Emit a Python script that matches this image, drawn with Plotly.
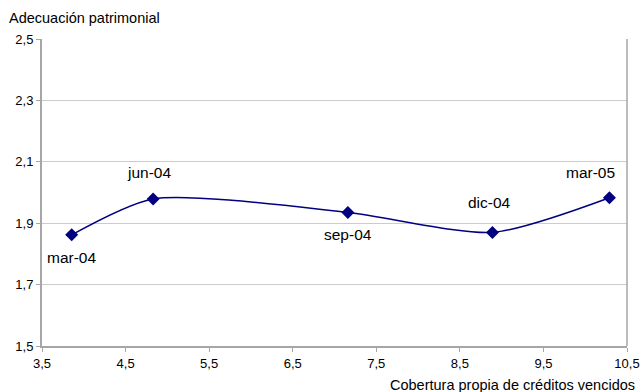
import plotly.graph_objects as go

labels = ["mar-04", "jun-04", "sep-04", "dic-04", "mar-05"]
x_vals = [3.855, 4.83, 7.16, 8.89, 10.29]
y_vals = [1.862, 1.979, 1.935, 1.870, 1.983]
label_shift_x = [0, -4, 0, -3, -19]
label_shift_y = [-23, 26, -22, 30, 25]

FONT = "Liberation Sans, Arial"

fig = go.Figure()
fig.add_trace(go.Scatter(
    x=x_vals, y=y_vals, mode="lines+markers",
    line=dict(color="#000080", width=1.5, shape="spline", smoothing=0.7),
    marker=dict(symbol="diamond", size=10, color="#000080"),
    showlegend=False, hoverinfo="skip"))

for lab, xv, yv, sx, sy in zip(labels, x_vals, y_vals, label_shift_x, label_shift_y):
    fig.add_annotation(x=xv, y=yv, text=lab, showarrow=False, xshift=sx, yshift=sy,
                       font=dict(family=FONT, size=15.5, color="#000000"))

fig.add_annotation(xref="paper", yref="paper", x=-0.06, y=1.067, xanchor="left", yanchor="middle",
                   text="Adecuación patrimonial", showarrow=False,
                   font=dict(family=FONT, size=14.5, color="#000000"))
fig.add_annotation(xref="paper", yref="paper", x=1.017, y=-0.127, xanchor="right", yanchor="middle",
                   text="Cobertura propia de créditos vencidos", showarrow=False,
                   font=dict(family=FONT, size=14.5, color="#000000"))

fig.update_layout(
    width=643, height=392,
    margin=dict(l=42, r=16, t=39, b=46),
    paper_bgcolor="white", plot_bgcolor="white",
    separators=",.",
    font=dict(family=FONT, size=13, color="#000000"),
    xaxis=dict(range=[3.5, 10.5], tick0=3.5, dtick=1, tickformat=".1f",
               showgrid=False, zeroline=False, showline=True, linecolor="#a6a6a6", linewidth=2,
               ticks="outside", ticklen=4, tickcolor="#a6a6a6", automargin=False),
    yaxis=dict(range=[1.5, 2.5], tick0=1.5, dtick=0.2, tickformat=".1f",
               showgrid=True, gridcolor="#cccccc", gridwidth=1, zeroline=False,
               showline=True, linecolor="#a6a6a6", linewidth=2, ticks="outside",
               ticklen=4, tickcolor="#a6a6a6", automargin=False),
)
fig.add_shape(type="line", xref="paper", yref="paper", x0=1, x1=1, y0=0, y1=1,
              line=dict(color="#a6a6a6", width=1.5))

fig.write_html("out.html")
